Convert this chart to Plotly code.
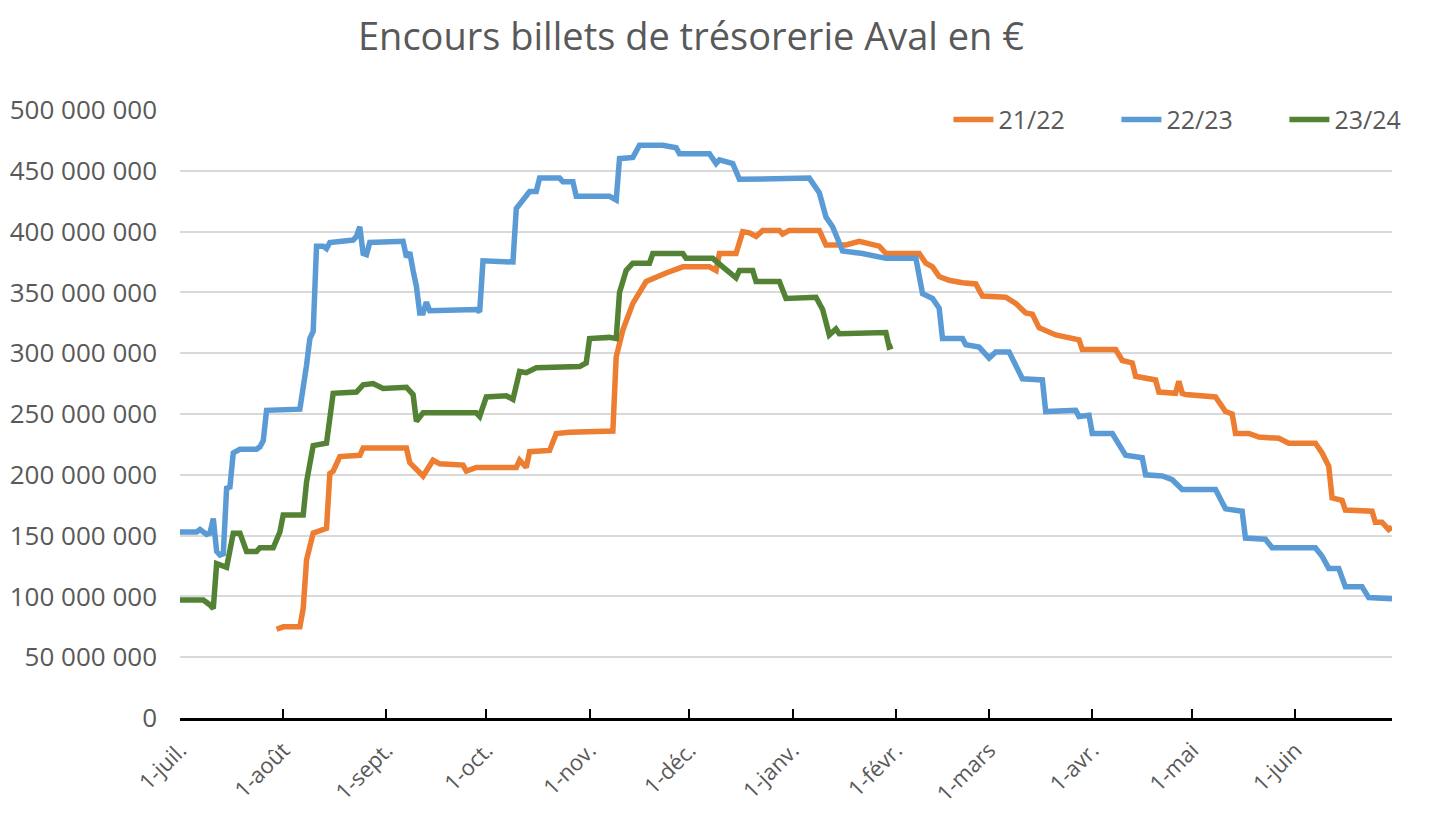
import plotly.graph_objects as go

# ---------------- data (values in millions of €) ----------------
month_ticks = ["07-01", "08-01", "09-01", "10-01", "11-01", "12-01",
               "01-01", "02-01", "03-01", "04-01", "05-01", "06-01"]
month_labels = ["1-juil.", "1-août", "1-sept.", "1-oct.", "1-nov.", "1-déc.",
                "1-janv.", "1-févr.", "1-mars", "1-avr.", "1-mai", "1-juin"]

s2122_dates = ["07-30", "08-01", "08-06", "08-07", "08-08", "08-09", "08-10", "08-14", "08-15", "08-16",
               "08-18", "08-24", "08-25", "09-07", "09-08", "09-12", "09-15", "09-17", "09-24", "09-25",
               "09-28", "10-10", "10-11", "10-13", "10-14", "10-20", "10-22", "10-26", "11-08", "11-09",
               "11-11", "11-14", "11-18", "11-24", "11-29", "12-07", "12-09", "12-10", "12-15", "12-17",
               "12-19", "12-21", "12-23", "12-28", "12-29", "12-31", "01-09", "01-11", "01-17", "01-21",
               "01-27", "01-29", "02-08", "02-10", "02-12", "02-14", "02-17", "02-21", "02-25", "02-27",
               "03-06", "03-09", "03-12", "03-14", "03-16", "03-21", "03-28", "03-29", "04-08", "04-10",
               "04-13", "04-14", "04-20", "04-21", "04-26", "04-27", "04-28", "04-29", "05-08", "05-11",
               "05-13", "05-14", "05-18", "05-21", "05-27", "05-30", "06-07", "06-09", "06-11", "06-12",
               "06-15", "06-16", "06-24", "06-25", "06-27", "06-29", "06-30"]
s2122_values = [73, 75, 75, 90, 130, 140, 152, 156, 201, 203,
                215, 216, 222, 222, 210, 199, 212, 209, 208, 203,
                206, 206, 212, 206, 219, 220, 234, 235, 236, 297,
                319, 341, 359, 366, 371, 371, 368, 382, 382, 400,
                399, 396, 401, 401, 398, 401, 401, 389, 389, 392,
                388, 382, 382, 374, 371, 363, 360, 358, 357, 347,
                346, 341, 333, 332, 321, 315, 311, 303, 303, 294,
                292, 281, 278, 268, 267, 277, 267, 266, 264, 252,
                250, 234, 234, 231, 230, 226, 226, 218, 207, 181,
                179, 171, 170, 161, 161, 155, 157]

s2223_dates = ["07-01", "07-06", "07-07", "07-09", "07-10", "07-11", "07-12", "07-13", "07-14", "07-15",
               "07-16", "07-17", "07-19", "07-24", "07-25", "07-26", "07-27", "08-06", "08-08", "08-09",
               "08-10", "08-11", "08-13", "08-14", "08-15", "08-18", "08-22", "08-23", "08-24", "08-25",
               "08-26", "08-27", "09-06", "09-07", "09-08", "09-09", "09-10", "09-11", "09-12", "09-13",
               "09-14", "09-28", "09-29", "09-30", "10-09", "10-10", "10-12", "10-14", "10-16", "10-17",
               "10-23", "10-24", "10-27", "10-28", "11-07", "11-09", "11-10", "11-14", "11-16", "11-23",
               "11-27", "11-28", "12-07", "12-09", "12-10", "12-14", "12-16", "12-21", "12-22", "01-06",
               "01-09", "01-11", "01-13", "01-16", "01-22", "01-29", "02-07", "02-09", "02-12", "02-14",
               "02-15", "02-21", "02-22", "02-26", "03-01", "03-03", "03-07", "03-11", "03-17", "03-18",
               "03-27", "03-28", "03-31", "04-01", "04-07", "04-11", "04-16", "04-17", "04-22", "04-25",
               "04-28", "05-08", "05-11", "05-16", "05-17", "05-23", "05-25", "06-07", "06-09", "06-11",
               "06-14", "06-16", "06-21", "06-23", "06-30"]
s2223_values = [153, 153, 155, 151, 152, 164, 137, 134, 135, 189,
                190, 218, 221, 221, 223, 228, 253, 254, 290, 312,
                318, 388, 388, 386, 391, 392, 393, 396, 404, 382,
                381, 391, 392, 379, 383, 368, 355, 333, 333, 342,
                335, 336, 334, 376, 375, 419, 426, 433, 433, 444,
                444, 441, 441, 429, 429, 426, 460, 461, 471, 471,
                469, 464, 464, 456, 459, 456, 443, 443, 444, 444,
                432, 412, 404, 384, 382, 378, 378, 349, 345, 337,
                312, 312, 307, 305, 296, 301, 301, 279, 278, 252,
                253, 248, 249, 234, 234, 216, 214, 200, 199, 196,
                188, 188, 172, 170, 148, 147, 140, 140, 133, 123,
                123, 108, 108, 99, 98]

s2324_dates = ["07-01", "07-08", "07-10", "07-11", "07-12", "07-15", "07-17", "07-19", "07-21", "07-24",
               "07-25", "07-29", "07-31", "08-01", "08-07", "08-08", "08-10", "08-14", "08-16", "08-23",
               "08-25", "08-28", "08-31", "09-07", "09-09", "09-10", "09-12", "09-28", "09-29", "10-01",
               "10-07", "10-09", "10-11", "10-13", "10-16", "10-29", "10-31", "11-01", "11-07", "11-09",
               "11-10", "11-12", "11-14", "11-19", "11-20", "11-29", "11-30", "12-08", "12-11", "12-12",
               "12-15", "12-16", "12-20", "12-21", "12-28", "12-30", "01-08", "01-10", "01-12", "01-14",
               "01-15", "01-29", "01-30", "01-31"]
s2324_values = [97, 97, 93, 90, 127, 124, 152, 152, 137, 137,
                140, 140, 153, 167, 167, 194, 224, 226, 267, 268,
                274, 275, 271, 272, 266, 244, 251, 251, 248, 264,
                265, 262, 285, 284, 288, 289, 292, 312, 313, 312,
                350, 368, 374, 374, 382, 382, 378, 378, 371, 369,
                362, 368, 368, 359, 359, 345, 346, 336, 315, 320,
                316, 317, 305, 306]

series_names = ["21/22", "22/23", "23/24"]
series_colors = ["#ED7D31", "#5B9BD5", "#548235"]


def to_date(md):
    # common season axis: July–December on 2021, January–June on 2022
    return ("2021-" if int(md[:2]) >= 7 else "2022-") + md


fig = go.Figure()
for name, color, dates, vals in zip(series_names, series_colors,
                                    [s2122_dates, s2223_dates, s2324_dates],
                                    [s2122_values, s2223_values, s2324_values]):
    fig.add_trace(go.Scatter(
        x=[to_date(d) for d in dates],
        y=[v * 1_000_000 for v in vals],
        mode="lines", name=name,
        line=dict(color=color, width=5.5, shape="linear"),
    ))

grey = "#595959"
fig.update_layout(
    width=1431, height=814,
    paper_bgcolor="white", plot_bgcolor="white",
    margin=dict(l=172, r=47, t=102, b=104, autoexpand=False),
    separators=", ",
    font=dict(family="Open Sans", color=grey),
    title=dict(text="Encours billets de trésorerie Aval en €",
               x=683 / 1431, xanchor="center", xref="container",
               y=1 - 29 / 814, yanchor="middle", yref="container",
               font=dict(size=38, color=grey, family="Open Sans")),
    legend=dict(orientation="h", x=0.634, xanchor="left", y=0.984, yanchor="middle",
                bgcolor="rgba(0,0,0,0)", font=dict(size=25, color=grey),
                itemwidth=40, entrywidth=113, entrywidthmode="pixels",
                traceorder="normal"),
    showlegend=True,
)
fig.update_xaxes(
    type="date",
    range=["2021-07-01", "2022-06-30"],
    tickvals=[to_date(m) for m in month_ticks],
    ticktext=month_labels,
    tickangle=-45,
    tickfont=dict(size=22, color=grey),
    ticklabelstandoff=8,
    showgrid=False,
    showline=True, linecolor="black", linewidth=2.5,
    ticks="inside", ticklen=9, tickwidth=2, tickcolor="black",
    zeroline=False, automargin=False,
)
fig.update_yaxes(
    range=[0, 500_000_000],
    tickvals=[i * 50_000_000 for i in range(11)],
    tickformat=",d",
    tickfont=dict(size=26, color=grey),
    showgrid=True, gridcolor="#D9D9D9", gridwidth=2,
    showline=False, zeroline=False,
    ticks="", ticklabelstandoff=22, automargin=False,
)

fig.write_html("out.html")
